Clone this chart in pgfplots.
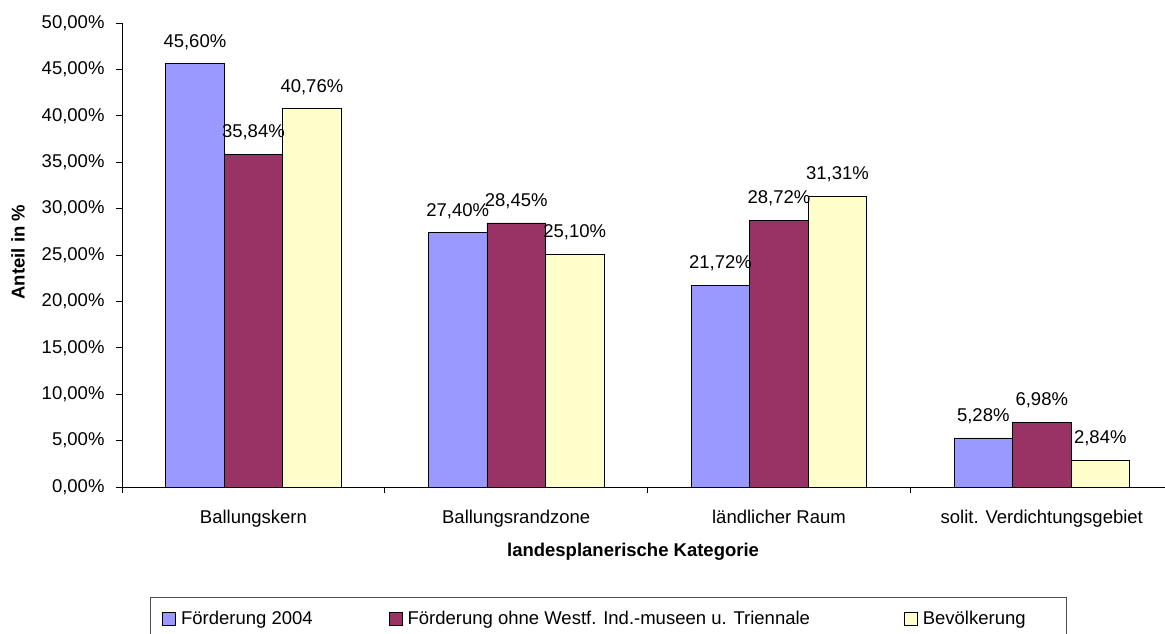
\documentclass[border=0pt]{standalone}
\usepackage{pgfplots}
\pgfplotsset{compat=1.18}
\usepackage{fontspec}
\setmainfont{Liberation Sans}
\definecolor{cA}{HTML}{9999FF}
\definecolor{cB}{HTML}{993366}
\definecolor{cC}{HTML}{FFFFCC}
\begin{document}
\begin{tikzpicture}[x=1pt,y=1pt]
\useasboundingbox (0,0) rectangle (1165,634);
\begin{axis}[
  at={(122pt,147pt)}, anchor=south west,
  scale only axis, width=1043pt, height=464pt,
  xmin=-0.5, xmax=3.469, ymin=0, ymax=50,
  axis lines*=left,
  axis line style={black, line width=0.8pt},
  ybar=0pt, bar width=58.5pt,
  tick align=outside, major tick length=6pt,
  tick style={black, line width=0.8pt},
  xtick={-0.5,0.5,1.5,2.5}, xticklabels={},
  extra x ticks={0,1,2,3},
  extra x tick labels={Ballungskern,Ballungsrandzone,ländlicher Raum,solit. Verdichtungsgebiet},
  extra x tick style={major tick length=0pt, tick label style={yshift=-20pt}},
  ytick={0,5,...,50},
  yticklabels={{0,00\%},{5,00\%},{10,00\%},{15,00\%},{20,00\%},{25,00\%},{30,00\%},{35,00\%},{40,00\%},{45,00\%},{50,00\%}},
  yticklabel style={xshift=-8pt},
  tick label style={font=\fontsize{18.5}{20}\selectfont},
  /pgf/number format/assume math mode=true,
  nodes near coords={\pgfmathprintnumber[fixed,fixed zerofill,precision=2,use comma]{\pgfplotspointmeta}\%},
  every node near coord/.append style={font=\fontsize{18.5}{20}\selectfont, anchor=center, yshift=22pt, black},
  xlabel={\bfseries landesplanerische Kategorie},
  xlabel style={at={(axis description cs:0.49,-0.1400)}, anchor=center, font=\fontsize{18.5}{20}\selectfont},
  ylabel={\bfseries Anteil in \%},
  ylabel style={at={(axis description cs:-0.0997,0.506)}, anchor=center, font=\fontsize{18.5}{20}\selectfont},
  legend columns=3,
  legend image code/.code={\draw[#1, draw=black, line width=0.8pt] (0pt,-6.5pt) rectangle (13pt,6.5pt);},
  legend style={at={(axis description cs:0.0268,-0.2371)}, anchor=north west,
    draw=black!70, line width=0.8pt, inner xsep=12pt, inner ysep=12pt,
    font=\fontsize{18.5}{20}\selectfont,
    /tikz/column 1/.style={column sep=3pt},
    /tikz/column 3/.style={column sep=3pt},
    /tikz/column 5/.style={column sep=3pt},
    /tikz/column 2/.style={column sep=74pt},
    /tikz/column 4/.style={column sep=92pt}},
  legend cell align=left,
]
\addplot[fill=cA, draw=black, line width=0.8pt] coordinates {(0,45.60) (1,27.40) (2,21.72) (3,5.28)};
\addplot[fill=cB, draw=black, line width=0.8pt] coordinates {(0,35.84) (1,28.45) (2,28.72) (3,6.98)};
\addplot[fill=cC, draw=black, line width=0.8pt] coordinates {(0,40.76) (1,25.10) (2,31.31) (3,2.84)};
\legend{Förderung 2004, Förderung ohne Westf. Ind.-museen u. Triennale, \makebox[130pt][l]{Bevölkerung}}
\end{axis}
\end{tikzpicture}
\end{document}
